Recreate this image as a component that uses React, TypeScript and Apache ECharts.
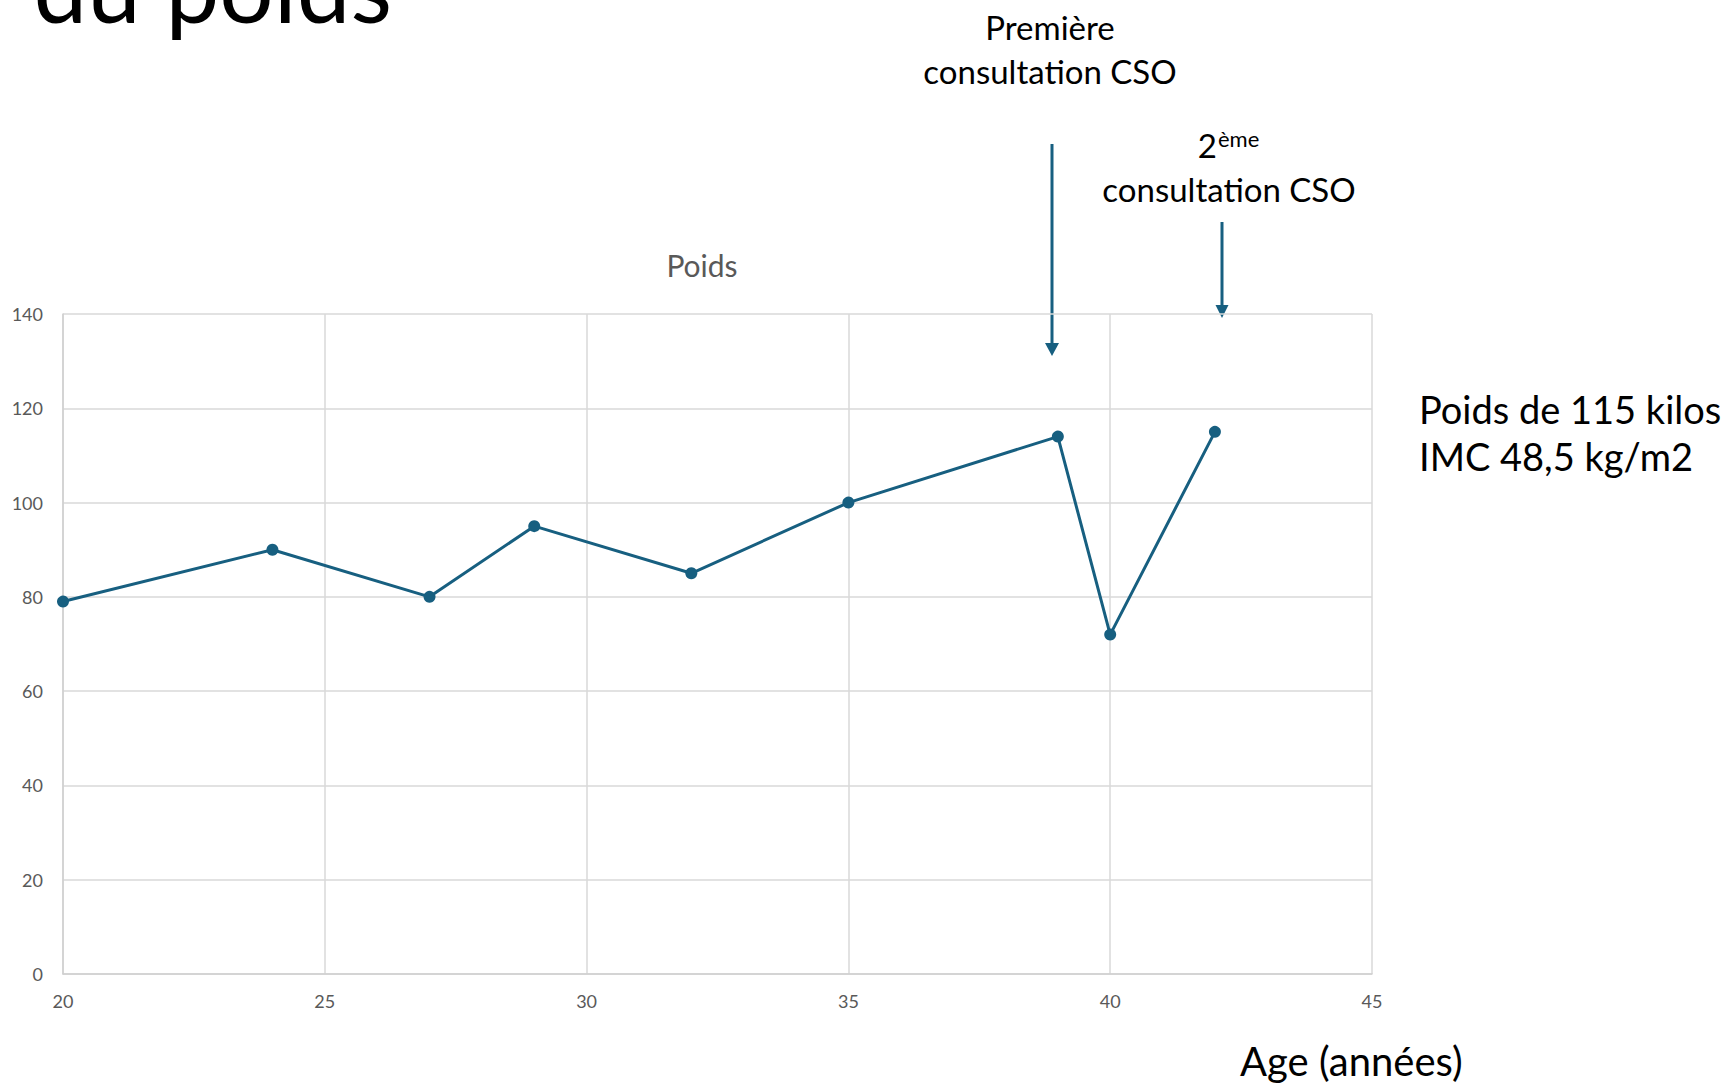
import React, { useEffect, useRef } from "react";
import * as echarts from "echarts";

const ages = [20, 24, 27, 29, 32, 35, 39, 40, 42];
const poids = [79, 90, 80, 95, 85, 100, 114, 72, 115];
const xTicks = { min: 20, max: 45, interval: 5 };
const yTicks = { min: 0, max: 140, interval: 20 };

const FONT = "Lato, 'Noto Sans', sans-serif";
const BLUE = "#175f80";

function mid(baseline: number, fs: number) {
  return baseline - 0.32 * fs;
}

export default function App() {
  const ref = useRef<HTMLDivElement>(null);
  useEffect(() => {
    if (!ref.current) return;
    const chart = echarts.init(ref.current, undefined, { renderer: "svg" });
    const annFs = 33;
    const sideFs = 38;
    const option: any = {
      animation: false,
      backgroundColor: "#ffffff",
      title: {
        text: "Poids",
        left: 697,
        top: 245,
        textAlign: "center",
        textStyle: { fontFamily: FONT, fontSize: 30, fontWeight: "normal", color: "#595959" },
      },
      grid: { left: 63, top: 314, right: 358, bottom: 112 },
      xAxis: {
        type: "value",
        min: xTicks.min,
        max: xTicks.max,
        interval: xTicks.interval,
        axisLine: { show: true, lineStyle: { color: "#cfcfcf", width: 1.5 } },
        axisTick: { show: false },
        axisLabel: { fontFamily: FONT, fontSize: 18, color: "#595959", margin: 18 },
        splitLine: { show: true, lineStyle: { color: "#d9d9d9", width: 1.5 } },
      },
      yAxis: {
        type: "value",
        min: yTicks.min,
        max: yTicks.max,
        interval: yTicks.interval,
        axisLine: { show: true, lineStyle: { color: "#cfcfcf", width: 1.5 } },
        axisTick: { show: false },
        axisLabel: { fontFamily: FONT, fontSize: 18, color: "#595959", margin: 20 },
        splitLine: { show: true, lineStyle: { color: "#d9d9d9", width: 1.5 } },
      },
      series: [
        {
          type: "line",
          data: ages.map((a, i) => [a, poids[i]]),
          symbol: "circle",
          symbolSize: 12,
          showSymbol: true,
          lineStyle: { color: BLUE, width: 3 },
          itemStyle: { color: BLUE },
        },
      ],
      graphic: [
        {
          type: "text",
          style: {
            text: "du poids",
            x: 392,
            y: mid(16, 96),
            textAlign: "right",
            verticalAlign: "middle",
            fontFamily: FONT,
            fontSize: 96,
            fill: "#000000",
          },
        },
        {
          type: "text",
          style: { text: "Première", x: 1050, y: mid(38, annFs), textAlign: "center", verticalAlign: "middle", fontFamily: FONT, fontSize: annFs, fill: "#000" },
        },
        {
          type: "text",
          style: { text: "consultation CSO", x: 1050, y: mid(82, annFs), textAlign: "center", verticalAlign: "middle", fontFamily: FONT, fontSize: annFs, fill: "#000" },
        },
        {
          type: "text",
          style: { text: "2", x: 1217, y: mid(156, annFs), textAlign: "right", verticalAlign: "middle", fontFamily: FONT, fontSize: annFs, fill: "#000" },
        },
        {
          type: "text",
          style: { text: "ème", x: 1218, y: mid(146, 22), textAlign: "left", verticalAlign: "middle", fontFamily: FONT, fontSize: 22, fill: "#000" },
        },
        {
          type: "text",
          style: { text: "consultation CSO", x: 1229, y: mid(200, annFs), textAlign: "center", verticalAlign: "middle", fontFamily: FONT, fontSize: annFs, fill: "#000" },
        },
        {
          type: "line",
          shape: { x1: 1052, y1: 144, x2: 1052, y2: 344 },
          style: { stroke: BLUE, lineWidth: 3 },
        },
        {
          type: "polygon",
          shape: { points: [[1045, 343], [1059, 343], [1052, 356]] },
          style: { fill: BLUE },
        },
        {
          type: "line",
          shape: { x1: 1222, y1: 222, x2: 1222, y2: 306 },
          style: { stroke: BLUE, lineWidth: 3 },
        },
        {
          type: "polygon",
          shape: { points: [[1215.5, 305], [1228.5, 305], [1222, 318]] },
          style: { fill: BLUE },
        },
        {
          type: "text",
          style: { text: "Poids de 115 kilos", x: 1419, y: mid(421, sideFs), textAlign: "left", verticalAlign: "middle", fontFamily: FONT, fontSize: sideFs, fill: "#000" },
        },
        {
          type: "text",
          style: { text: "IMC 48,5 kg/m2", x: 1419, y: mid(468, sideFs), textAlign: "left", verticalAlign: "middle", fontFamily: FONT, fontSize: sideFs, fill: "#000" },
        },
        {
          type: "text",
          style: { text: "Age (années)", x: 1240, y: mid(1074, 40), textAlign: "left", verticalAlign: "middle", fontFamily: FONT, fontSize: 40, fill: "#000" },
        },
      ],
    };
    chart.setOption(option);
    return () => chart.dispose();
  }, []);
  return (
    <div
      ref={ref}
      style={{ position: "absolute", left: 0, top: 0, width: 1730, height: 1086, background: "#fff" }}
    />
  );
}
